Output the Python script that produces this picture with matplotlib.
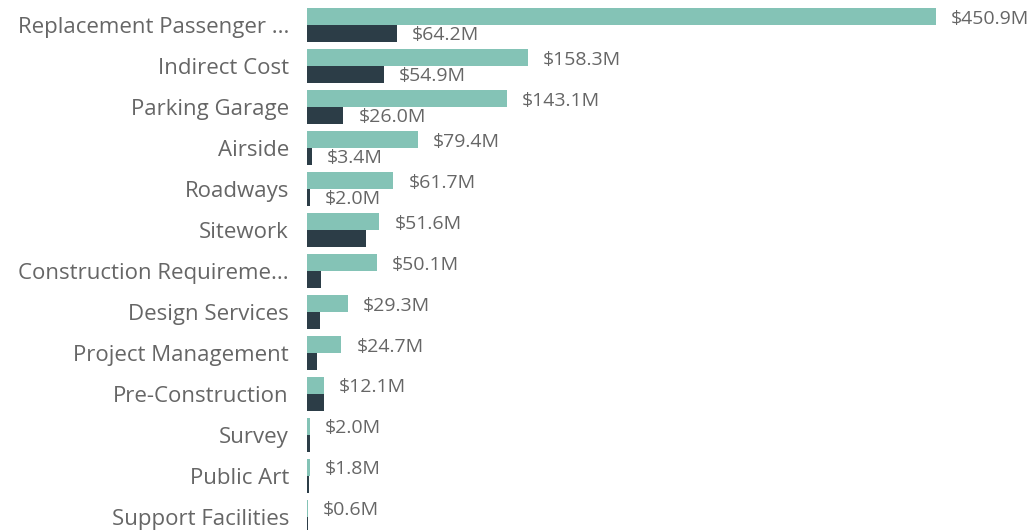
import matplotlib.pyplot as plt
import numpy as np

# data (values in $M)
categories = ["Replacement Passenger ...", "Indirect Cost", "Parking Garage", "Airside",
              "Roadways", "Sitework", "Construction Requireme...", "Design Services",
              "Project Management", "Pre-Construction", "Survey", "Public Art",
              "Support Facilities"]
budget = [450.9, 158.3, 143.1, 79.4, 61.7, 51.6, 50.1, 29.3, 24.7, 12.1, 2.0, 1.8, 0.6]
spent = [64.2, 54.9, 26.0, 3.4, 2.0, 42.0, 10.0, 9.3, 7.2, 12.1, 2.0, 1.5, 0.6]
spent_labeled = [True, True, True, True, True, False, False, False, False, False, False, False, False]

teal = '#84C3B6'
dark = '#2C3D47'
gray = '#666666'

plt.rcParams['font.family'] = ['Open Sans', 'DejaVu Sans']

fig = plt.figure(figsize=(10.29, 5.30), dpi=100)
ax = fig.add_axes([307 / 1029, 0, 722 / 1029, 1])

y = np.arange(len(categories))
h = 0.415
ax.barh(y - h / 2, budget, height=h, color=teal)
ax.barh(y + h / 2, spent, height=h, color=dark)

for i in range(len(categories)):
    ax.annotate(f"${budget[i]:.1f}M", (budget[i], y[i] - h / 2), xytext=(11, -1.5),
                textcoords='offset points', va='center', ha='left', color=gray, fontsize=14)
    if spent_labeled[i]:
        ax.annotate(f"${spent[i]:.1f}M", (spent[i], y[i] + h / 2), xytext=(11, -1),
                    textcoords='offset points', va='center', ha='left', color=gray, fontsize=14)

ax.set_xlim(0, 517.6)
ax.set_ylim(12.32, -0.61)
ax.set_yticks(y)
ax.set_yticklabels(categories, fontsize=16, color=gray)
ax.tick_params(axis='y', length=0, pad=13)
ax.set_xticks([])
for s in ax.spines.values():
    s.set_visible(False)

fig.savefig('out.png', dpi=100)
